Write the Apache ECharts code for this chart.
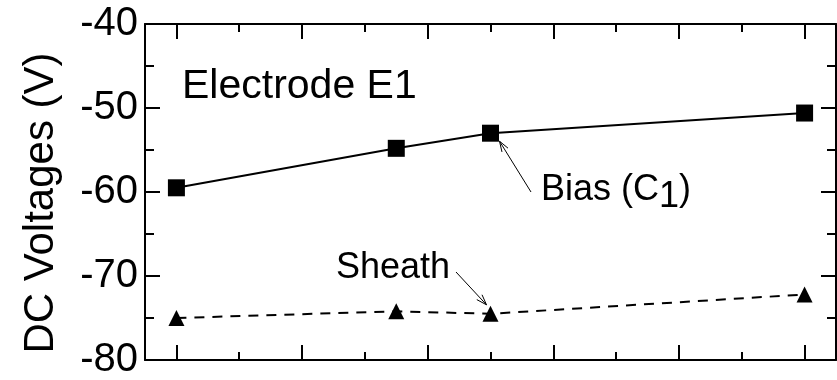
<!DOCTYPE html>
<html>
<head>
<meta charset="utf-8">
<script src="https://cdn.jsdelivr.net/npm/echarts@6/dist/echarts.min.js"></script>
<style>
  html, body { margin: 0; padding: 0; background: #ffffff; }
  #chart { width: 837px; height: 380px; }
</style>
</head>
<body>
<div id="chart"></div>
<script>
// Measurement positions along the electrode (arbitrary units, no axis labels drawn)
const positions = [0, 3.5, 5, 10];
// DC bias voltage on C1 (V)
const biasVoltage = [-59.5, -54.8, -53.0, -50.6];
// Sheath voltage (V)
const sheathVoltage = [-75.0, -74.2, -74.5, -72.2];
// Voltage axis tick values
const voltageTicks = [-80, -70, -60, -50, -40];

const FONT = '"Liberation Sans", Arial, Helvetica, sans-serif';
const INK = '#000000';

const chart = echarts.init(document.getElementById('chart'), null, { renderer: 'canvas' });

function xAxisFrame(position) {
  return {
    type: 'value',
    position: position,
    min: -0.5,
    max: 10.5,
    splitNumber: 5,
    axisLine: { show: true, onZero: false, lineStyle: { color: INK, width: 2 } },
    axisTick: { show: true, inside: true, length: 15, lineStyle: { color: INK, width: 2 } },
    minorTick: { show: true, splitNumber: 2, length: 8, lineStyle: { color: INK, width: 2 } },
    axisLabel: { show: false },
    splitLine: { show: false },
    minorSplitLine: { show: false }
  };
}

function yAxisFrame(position, showLabels) {
  return {
    type: 'value',
    position: position,
    min: voltageTicks[0],
    max: voltageTicks[voltageTicks.length - 1],
    interval: voltageTicks[1] - voltageTicks[0],
    axisLine: { show: true, onZero: false, lineStyle: { color: INK, width: 2 } },
    axisTick: { show: true, inside: true, length: 15, lineStyle: { color: INK, width: 2 } },
    minorTick: { show: true, splitNumber: 2, length: 9, lineStyle: { color: INK, width: 2 } },
    axisLabel: {
      show: showLabels,
      color: INK,
      fontFamily: FONT,
      fontSize: 40,
      margin: 7
    },
    splitLine: { show: false },
    minorSplitLine: { show: false }
  };
}

chart.setOption({
  animation: false,
  backgroundColor: '#ffffff',
  grid: { left: 145, top: 24, right: 1, bottom: 10, containLabel: false },
  xAxis: [xAxisFrame('bottom'), xAxisFrame('top')],
  yAxis: [yAxisFrame('left', true), yAxisFrame('right', false)],
  series: [
    {
      name: 'Bias (C1)',
      type: 'line',
      xAxisIndex: 0,
      yAxisIndex: 0,
      data: positions.map((x, i) => [x, biasVoltage[i]]),
      symbol: 'rect',
      symbolSize: 17,
      lineStyle: { color: INK, width: 2 },
      itemStyle: { color: INK },
      z: 3
    },
    {
      name: 'Sheath',
      type: 'line',
      xAxisIndex: 0,
      yAxisIndex: 0,
      data: positions.map((x, i) => [x, sheathVoltage[i]]),
      symbol: 'triangle',
      symbolSize: [16, 16],
      lineStyle: { color: INK, width: 2, type: [10, 8] },
      itemStyle: { color: INK },
      z: 3
    }
  ]
});

// Text width helper for composing the subscripted label
const measureCtx = document.createElement('canvas').getContext('2d');
function textWidth(str, size) {
  measureCtx.font = size + 'px ' + FONT;
  return measureCtx.measureText(str).width;
}

// Thin arrow with an open head, pointing from `from` to `to`
function arrow(from, to) {
  const dx = to[0] - from[0];
  const dy = to[1] - from[1];
  const ang = Math.atan2(dy, dx);
  const headLen = 11;
  const spread = 0.33;
  const h1 = [to[0] - headLen * Math.cos(ang - spread), to[1] - headLen * Math.sin(ang - spread)];
  const h2 = [to[0] - headLen * Math.cos(ang + spread), to[1] - headLen * Math.sin(ang + spread)];
  return [
    { type: 'line', shape: { x1: from[0], y1: from[1], x2: to[0], y2: to[1] },
      style: { stroke: INK, lineWidth: 1 }, z: 10 },
    { type: 'polyline', shape: { points: [h1, to, h2] },
      style: { stroke: INK, lineWidth: 1, fill: null }, z: 10 }
  ];
}

const biasPt = chart.convertToPixel({ xAxisIndex: 0, yAxisIndex: 0 }, [positions[2], biasVoltage[2]]);
const sheathPt = chart.convertToPixel({ xAxisIndex: 0, yAxisIndex: 0 }, [positions[2], sheathVoltage[2]]);

const biasSize = 36;
const biasX = 541;
const biasY = 190;
const biasMain = 'Bias (C';
const wMain = textWidth(biasMain, biasSize);
const wSub = textWidth('1', biasSize);

const graphics = [
  {
    type: 'text',
    x: 41, y: 203,
    rotation: Math.PI / 2,
    style: { text: 'DC Voltages (V)', fill: INK, font: '42px ' + FONT, align: 'center', verticalAlign: 'middle' }
  },
  {
    type: 'text',
    x: 182, y: 87,
    style: { text: 'Electrode E1', fill: INK, font: '41px ' + FONT, align: 'left', verticalAlign: 'middle' }
  },
  {
    type: 'text',
    x: biasX, y: biasY,
    style: { text: biasMain, fill: INK, font: biasSize + 'px ' + FONT, align: 'left', verticalAlign: 'middle' }
  },
  {
    type: 'text',
    x: biasX + wMain, y: biasY + 7,
    style: { text: '1', fill: INK, font: biasSize + 'px ' + FONT, align: 'left', verticalAlign: 'middle' }
  },
  {
    type: 'text',
    x: biasX + wMain + wSub, y: biasY,
    style: { text: ')', fill: INK, font: biasSize + 'px ' + FONT, align: 'left', verticalAlign: 'middle' }
  },
  {
    type: 'text',
    x: 336, y: 268,
    style: { text: 'Sheath', fill: INK, font: '36px ' + FONT, align: 'left', verticalAlign: 'middle' }
  }
]
  .concat(arrow([531, 192], [biasPt[0] + 9, biasPt[1] + 8]))
  .concat(arrow([456, 272], [sheathPt[0] - 4, sheathPt[1] - 9]));

chart.setOption({ graphic: graphics });
</script>
</body>
</html>
